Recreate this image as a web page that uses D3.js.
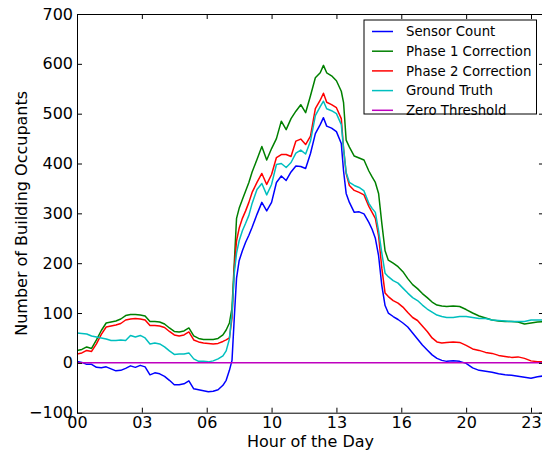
<!DOCTYPE html>
<html><head><meta charset="utf-8">
<script src="https://cdn.jsdelivr.net/npm/d3@7"></script>
<style>body{margin:0;background:#fff}svg{display:block}text{font-family:"DejaVu Sans",sans-serif}</style>
</head><body><svg id="c" width="542" height="454"></svg>
<script>
const minutes = [0,15,30,45,60,75,90,105,120,135,150,165,180,195,210,225,240,255,270,285,300,315,330,345,360,375,390,405,420,435,450,460,470,478,485,492,500,510,520,530,540,555,570,585,600,615,630,645,660,675,690,705,720,735,750,760,770,785,800,815,822,830,840,855,870,885,900,910,920,930,940,950,960,975,990,1005,1020,1035,1050,1065,1080,1095,1110,1125,1140,1160,1180,1200,1220,1240,1260,1280,1300,1320,1340,1360,1380,1400,1420,1440];
const sensorCount = [3,1,-3,-3,-9,-10,-8,-12,-16,-15,-11,-6,-9,-5,-8,-24,-20,-22,-27,-35,-44,-44,-42,-36,-52,-54,-56,-58,-57,-54,-45,-35,-15,5,90,170,205,225,242,256,272,298,322,305,322,362,375,366,383,395,394,390,420,460,478,492,475,471,464,440,385,340,322,302,303,299,282,268,250,215,155,115,100,93,87,80,72,60,48,36,26,16,9,5,3,4,3,-1,-10,-15,-17,-19,-22,-24,-25,-27,-29,-31,-28,-26];
const phase1 = [25,27,32,29,46,65,80,82,84,88,95,97,97,96,94,83,83,82,78,70,63,62,64,70,54,49,47,47,47,49,56,66,80,110,200,290,310,328,345,362,383,408,434,407,430,450,485,468,490,505,518,502,536,572,582,597,582,576,566,545,522,447,433,415,411,407,385,373,362,340,280,225,206,200,193,183,169,157,149,139,131,122,116,114,113,114,113,107,100,94,90,86,84,83,83,82,78,80,82,83];
const phase2 = [18,20,25,23,38,57,72,74,76,79,86,88,89,88,86,75,75,74,71,63,56,54,56,62,46,42,40,39,38,39,43,46,50,90,190,245,270,290,305,322,342,362,380,358,378,412,418,418,414,445,449,438,455,510,527,541,523,518,512,490,430,380,356,346,342,337,314,302,290,255,190,140,133,125,120,112,101,91,85,74,63,50,42,40,41,42,41,35,28,25,21,19,15,13,11,12,9,4,2,2];
const groundTruth = [60,59,58,54,52,50,48,45,45,46,45,55,52,55,50,38,40,38,32,24,17,18,18,20,8,3,3,2,4,8,14,24,48,100,180,220,245,265,280,296,320,348,360,337,358,398,400,392,402,421,427,419,445,496,514,525,510,506,500,478,430,382,362,356,352,345,320,310,302,265,220,180,173,165,160,150,140,131,125,116,108,102,96,93,91,91,93,93,91,89,89,86,85,84,83,83,83,86,86,86];
const zeroThreshold = minutes.map(() => 0);
const seriesNames = ["Sensor Count","Phase 1 Correction","Phase 2 Correction","Ground Truth","Zero Threshold"];
const seriesColors = ["#0000ff","#008000","#ff0000","#00bfbf","#bf00bf"];
const xTicks = [0,200,400,600,800,1000,1200,1400];
const yTicks = [-100,0,100,200,300,400,500,600,700];

const svg = d3.select("#c");
const L = 77, T = 14, B = 412.7, R = 77 + 1440*(454/1400);
const x = d3.scaleLinear().domain([0,1440]).range([L,R]);
const y = d3.scaleLinear().domain([-100,700]).range([B,T]);
const allSeries = [sensorCount, phase1, phase2, groundTruth, zeroThreshold];

svg.append("clipPath").attr("id","pc").append("rect").attr("x",L).attr("y",T).attr("width",R-L).attr("height",B-T);
const line = d3.line().x((d,i)=>x(minutes[i])).y(d=>y(d));
const g = svg.append("g").attr("clip-path","url(#pc)");
allSeries.forEach((s,k)=>{
  g.append("path").datum(s).attr("d",line).attr("fill","none").attr("stroke",seriesColors[k]).attr("stroke-width",1.5).attr("stroke-linejoin","round");
});

const fmtH = d => String(Math.floor(d/60)).padStart(2,"0");
const fs = "16px";
const xb = svg.append("g").attr("transform",`translate(0,${B})`).call(d3.axisBottom(x).tickValues(xTicks).tickFormat(fmtH).tickSizeInner(-5).tickSizeOuter(0).tickPadding(3));
const xt = svg.append("g").attr("transform",`translate(0,${T})`).call(d3.axisTop(x).tickValues(xTicks).tickFormat("").tickSizeInner(-5).tickSizeOuter(0));
const yl = svg.append("g").attr("transform",`translate(${L},0)`).call(d3.axisLeft(y).tickValues(yTicks).tickFormat(d=>d<0?"\u2212"+Math.abs(d):d).tickSizeInner(-5).tickSizeOuter(0).tickPadding(4));
const yr = svg.append("g").attr("transform",`translate(${R},0)`).call(d3.axisRight(y).tickValues(yTicks).tickFormat("").tickSizeInner(-5).tickSizeOuter(0));
[xb,xt,yl,yr].forEach(a=>{
  a.selectAll("path.domain").attr("stroke","#000").attr("stroke-width",1);
  a.selectAll(".tick line").attr("stroke","#000");
  a.selectAll("text").attr("font-size",fs).attr("fill","#000").attr("font-family","DejaVu Sans");
});
xb.selectAll("text").attr("y",3).attr("dy","0.76em");

svg.append("text").attr("x",(L+R)/2).attr("y",446.5).attr("text-anchor","middle").attr("font-size",fs).text("Hour of the Day");
svg.append("text").attr("transform",`translate(27,${(T+B)/2}) rotate(-90)`).attr("text-anchor","middle").attr("font-size",fs).text("Number of Building Occupants");

const lg = svg.append("g");
lg.append("rect").attr("x",364).attr("y",20).attr("width",172.5).attr("height",94).attr("fill","#fff").attr("stroke","#000").attr("stroke-width",1);
seriesNames.forEach((n,k)=>{
  const yy = 31.5 + k*19.7;
  lg.append("line").attr("x1",372).attr("x2",393).attr("y1",yy).attr("y2",yy).attr("stroke",seriesColors[k]).attr("stroke-width",1.5);
  lg.append("text").attr("x",406).attr("y",yy).attr("dy","0.35em").attr("font-size","13.3px").text(n);
});
</script></body></html>
